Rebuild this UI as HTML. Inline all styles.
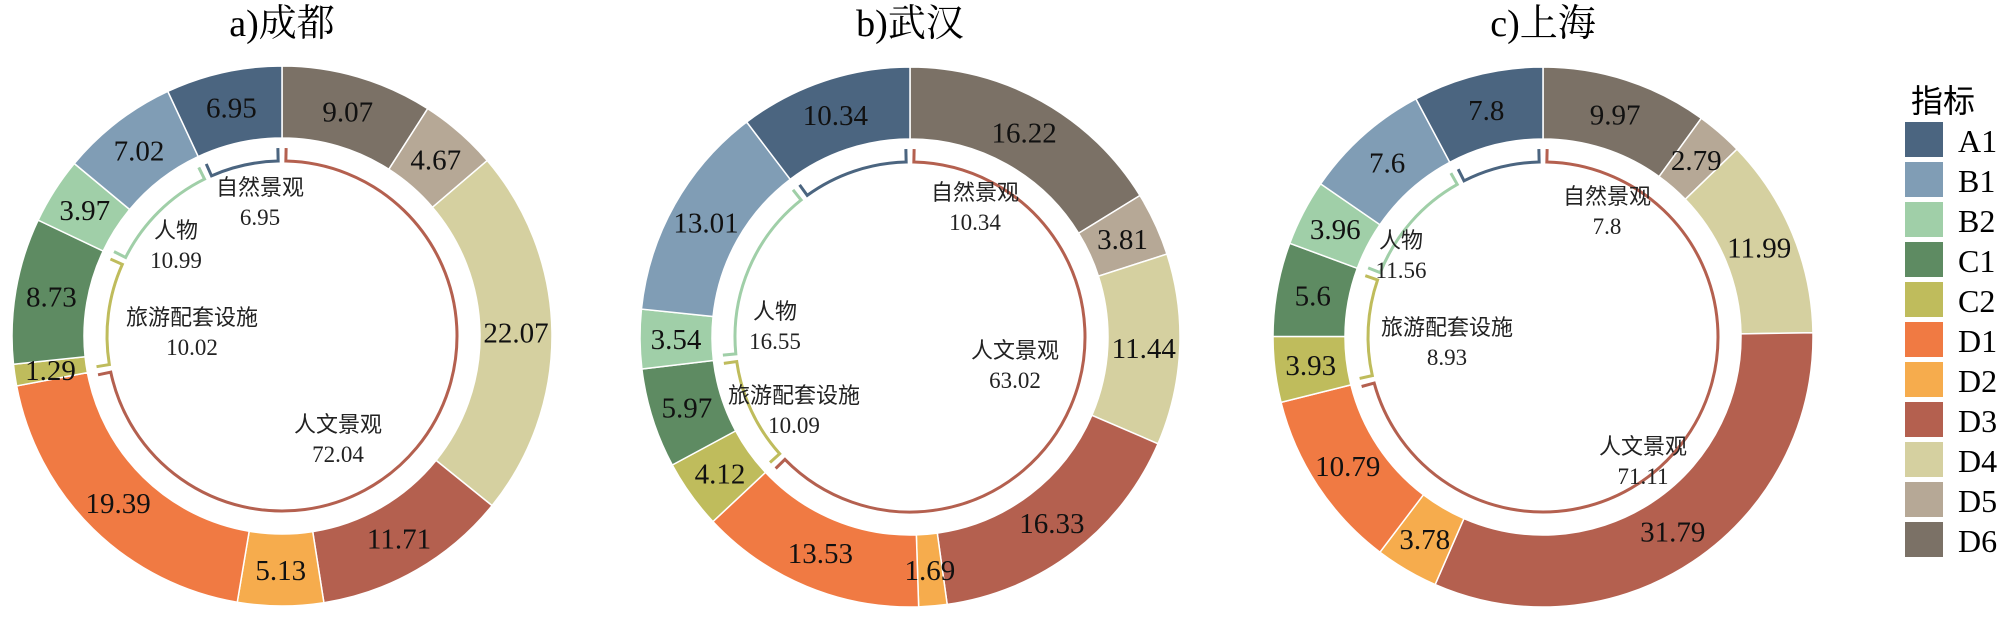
<!DOCTYPE html>
<html><head><meta charset="utf-8"><style>
html,body{margin:0;padding:0;background:#fff;width:2008px;height:622px;overflow:hidden}
svg text{font-family:"Liberation Serif","Noto Serif CJK SC",serif}
.cn{font-family:"Liberation Sans","Noto Sans CJK SC",sans-serif}
</style></head><body>
<svg id="s" width="2008" height="622" xmlns="http://www.w3.org/2000/svg"></svg>
<script>
const C={A1:'#4b6580',B1:'#809db5',B2:'#a0cfa8',C1:'#5e8b62',C2:'#bfbc5c',D1:'#f07a43',D2:'#f6ac4d',D3:'#b4604f',D4:'#d5d0a0',D5:'#b6a896',D6:'#7b7166'};
const order=['D6','D5','D4','D3','D2','D1','C2','C1','B2','B1','A1'];
const charts=[
{t:'a)成都',cx:282,cy:336,v:[9.07,4.67,22.07,11.71,5.13,19.39,1.29,8.73,3.97,7.02,6.95],
 lab:[['人文景观','72.04',56,88],['旅游配套设施','10.02',-90,-19],['人物','10.99',-106,-106],['自然景观','6.95',-22,-149]]},
{t:'b)武汉',cx:910,cy:337,v:[16.22,3.81,11.44,16.33,1.69,13.53,4.12,5.97,3.54,13.01,10.34],
 lab:[['人文景观','63.02',105,13],['旅游配套设施','10.09',-116,58],['人物','16.55',-135,-26],['自然景观','10.34',65,-145]]},
{t:'c)上海',cx:1543,cy:337,v:[9.97,2.79,11.99,31.79,3.78,10.79,3.93,5.6,3.96,7.6,7.8],
 lab:[['人文景观','71.11',100,109],['旅游配套设施','8.93',-96,-10],['人物','11.56',-142,-97],['自然景观','7.8',64,-141]]}
];
let h='',ht='';
function pt(cx,cy,r,p){const a=p/100*2*Math.PI;return [cx+r*Math.sin(a),cy-r*Math.cos(a)];}
function arcPath(cx,cy,r1,r2,p0,p1){
 const l=(p1-p0)>50?1:0;const a=pt(cx,cy,r2,p0),b=pt(cx,cy,r2,p1),c=pt(cx,cy,r1,p1),d=pt(cx,cy,r1,p0);
 return `M${a[0]},${a[1]}A${r2},${r2} 0 ${l} 1 ${b[0]},${b[1]}L${c[0]},${c[1]}A${r1},${r1} 0 ${l} 0 ${d[0]},${d[1]}Z`;}
const R1=198,R2=270,RB=175;
charts.forEach(ch=>{
 const {cx,cy}=ch;let p=0;
 ht+=`<text x="${cx}" y="36" font-size="38" text-anchor="middle">${ch.t}</text>`;
 ch.v.forEach((v,i)=>{
  h+=`<path d="${arcPath(cx,cy,R1,R2,p,p+v)}" fill="${C[order[i]]}" stroke="#fff" stroke-width="1.5"/>`;
  const m=pt(cx,cy,234,p+v/2);
  ht+=`<text x="${m[0]}" y="${m[1]+10}" font-size="29" text-anchor="middle" fill="#111">${v}</text>`;
  p+=v;});
 const cum=[0];ch.v.forEach(v=>cum.push(cum[cum.length-1]+v));
 const grp=[[0,6],[6,8],[8,10],[10,11]];const cols=['#b4604f','#bfbc5c','#a0cfa8','#4b6580'];
 grp.forEach((gg,k)=>{
  const s=cum[gg[0]]+0.35,e=cum[gg[1]]-0.35;
  const a=pt(cx,cy,RB,s),b=pt(cx,cy,RB,e),a2=pt(cx,cy,RB+13,s),b2=pt(cx,cy,RB+13,e);
  const l=(e-s)>50?1:0;
  h+=`<path d="M${a2[0]},${a2[1]}L${a[0]},${a[1]}A${RB},${RB} 0 ${l} 1 ${b[0]},${b[1]}L${b2[0]},${b2[1]}" fill="none" stroke="${cols[k]}" stroke-width="3"/>`;
 });
 ch.lab.forEach(L=>{
  ht+=`<text class="cn" x="${cx+L[2]}" y="${cy+L[3]+8}" font-size="22" text-anchor="middle" fill="#222">${L[0]}</text>`;
  ht+=`<text x="${cx+L[2]}" y="${cy+L[3]+38}" font-size="23" text-anchor="middle" fill="#222">${L[1]}</text>`;
 });
});
ht+=`<text x="1943" y="112" font-size="32" text-anchor="middle" class="cn">指标</text>`;
['A1','B1','B2','C1','C2','D1','D2','D3','D4','D5','D6'].forEach((k,i)=>{
 const y=122+i*40;
 h+=`<rect x="1905" y="${y}" width="38" height="35" fill="${C[k]}"/>`;
 ht+=`<text x="1958" y="${y+30}" font-size="32">${k}</text>`;
});
document.getElementById('s').innerHTML=h+ht;
</script>
</body></html>
